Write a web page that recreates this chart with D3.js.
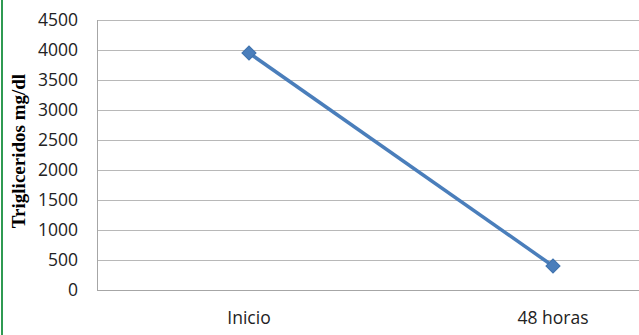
<!DOCTYPE html>
<html>
<head>
<meta charset="utf-8">
<script src="https://cdn.jsdelivr.net/npm/d3@7"></script>
<style>
  html, body { margin: 0; padding: 0; background: #fff; }
  svg { display: block; }
</style>
</head>
<body>
<div id="chart"></div>
<script>
// Triglicéridos: inicio vs. 48 horas
const categories = ["Inicio", "48 horas"];
const values = [3950, 400];
const yTicks = [0, 500, 1000, 1500, 2000, 2500, 3000, 3500, 4000, 4500];
const yTitle = "Trigliceridos mg/dl";

const W = 639, H = 335;
const margin = { top: 20, left: 97, bottom: 45 };
const plotW = 608;

const svg = d3.select("#chart").append("svg")
  .attr("width", W).attr("height", H);

svg.append("rect").attr("width", W).attr("height", H).attr("fill", "#fff");

// green frame edge on the left
svg.append("rect").attr("x", 1).attr("y", 0).attr("width", 2).attr("height", H)
  .attr("fill", "#2f9a52");

const x = d3.scaleBand().domain(categories).range([margin.left, margin.left + plotW]);
const y = d3.scaleLinear().domain([0, 4500]).range([H - margin.bottom, margin.top]);

const g = svg.append("g");

// horizontal gridlines
g.selectAll("line.grid").data(yTicks.filter(d => d > 0)).join("line")
  .attr("class", "grid")
  .attr("x1", margin.left).attr("x2", margin.left + plotW)
  .attr("y1", d => Math.round(y(d)) + 0.5).attr("y2", d => Math.round(y(d)) + 0.5)
  .attr("stroke", "#b8b8b8").attr("stroke-width", 1);

// axes lines
g.append("line")
  .attr("x1", margin.left + 0.5).attr("x2", margin.left + 0.5)
  .attr("y1", y(4500)).attr("y2", y(0) + 0.5)
  .attr("stroke", "#a6a6a6");
g.append("line")
  .attr("x1", margin.left).attr("x2", margin.left + plotW)
  .attr("y1", Math.round(y(0)) + 0.5).attr("y2", Math.round(y(0)) + 0.5)
  .attr("stroke", "#a6a6a6");

// y tick labels
g.selectAll("text.ytick").data(yTicks).join("text")
  .attr("class", "ytick")
  .attr("x", 78).attr("y", d => y(d))
  .attr("dy", "0.35em")
  .attr("text-anchor", "end")
  .attr("font-family", "Open Sans, sans-serif")
  .attr("font-size", 17.5)
  .attr("fill", "#222")
  .text(d => d);

// x labels
g.selectAll("text.xtick").data(categories).join("text")
  .attr("class", "xtick")
  .attr("x", d => x(d) + x.bandwidth() / 2)
  .attr("y", 324)
  .attr("text-anchor", "middle")
  .attr("font-family", "Open Sans, sans-serif")
  .attr("font-size", 17.5)
  .attr("fill", "#222")
  .text(d => d);

// y axis title
svg.append("text")
  .attr("transform", "translate(25,151) rotate(-90)")
  .attr("text-anchor", "middle")
  .attr("font-family", "Liberation Serif, Times New Roman, serif")
  .attr("font-weight", "bold")
  .attr("font-size", 19)
  .attr("fill", "#000")
  .text(yTitle);

// series line
const pts = categories.map((c, i) => [x(c) + x.bandwidth() / 2, y(values[i])]);
g.append("path")
  .attr("d", d3.line()(pts))
  .attr("fill", "none")
  .attr("stroke", "#4a7ebb")
  .attr("stroke-width", 3.5);

// diamond markers
g.selectAll("path.marker").data(pts).join("path")
  .attr("class", "marker")
  .attr("transform", d => `translate(${d[0]},${d[1]}) rotate(45)`)
  .attr("d", "M-5,-5H5V5H-5Z")
  .attr("fill", "#4a7ebb")
  .attr("stroke", "#3f72ad")
  .attr("stroke-width", 1);
</script>
</body>
</html>
